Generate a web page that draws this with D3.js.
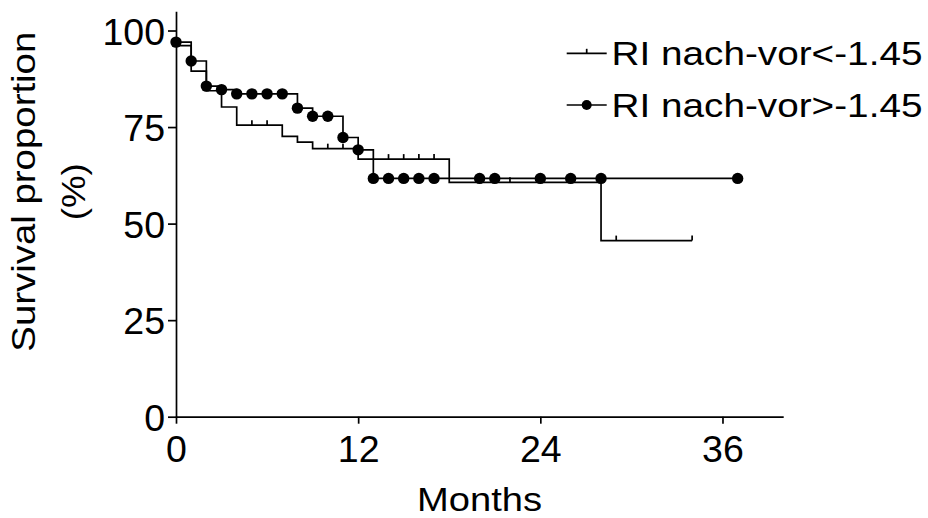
<!DOCTYPE html>
<html>
<head>
<meta charset="utf-8">
<script src="https://cdn.jsdelivr.net/npm/d3@7"></script>
<style>
  html, body { margin: 0; padding: 0; background: #fff; }
  svg { display: block; }
  text { font-family: "Liberation Sans", Arial, sans-serif; fill: #000; }
</style>
</head>
<body>
<svg id="chart" width="928" height="518"></svg>
<script>
// ---- data ----
const seriesNames = ["RI nach-vor<-1.45", "RI nach-vor>-1.45"];

// Series 1: RI nach-vor<-1.45 (censored marks as ticks)
const lowMonths   = [0, 1, 2, 3, 4, 5, 6, 7, 8, 9, 10, 11, 12, 14, 15, 16, 17, 18, 22, 28, 29, 34];
const lowSurvival = [96.1, 89.5, 84.4, 80.2, 75.5, 75.5, 75.5, 72.6, 71.1, 69.4, 69.4, 69.4, 66.7, 66.7, 66.7, 66.7, 66.7, 60.7, 60.7, 45.6, 45.6, 45.6];
const lowCensored = [0, 0, 0, 0, 0, 1, 1, 0, 0, 0, 1, 1, 0, 1, 1, 1, 1, 0, 1, 0, 1, 1];

// Series 2: RI nach-vor>-1.45 (every point drawn as a dot)
const highMonths   = [0, 1, 2, 3, 4, 5, 6, 7, 8, 9, 10, 11, 12, 13, 14, 15, 16, 17, 20, 21, 24, 26, 28, 37];
const highSurvival = [97.0, 92.1, 85.6, 84.7, 83.6, 83.6, 83.6, 83.6, 79.9, 77.8, 77.8, 72.3, 69.1, 61.7, 61.7, 61.7, 61.7, 61.7, 61.7, 61.7, 61.7, 61.7, 61.7, 61.7];

const xTicks = [0, 12, 24, 36];
const yTicks = [0, 25, 50, 75, 100];
const xTitle = "Months";
const yTitleLines = ["Survival proportion", "(%)"];

// ---- layout ----
const svg = d3.select("#chart");
const x = d3.scaleLinear().domain([0, 40]).range([176, 783.2]);
const y = d3.scaleLinear().domain([0, 105]).range([416.7, 11.2]);
const tickFont = 37.5;
const titleFont = 33;
const lw = 1.7;

// y axis
const yAxis = svg.append("g")
  .attr("transform", `translate(${x(0)},0)`)
  .call(d3.axisLeft(y).tickValues(yTicks).tickSize(8).tickSizeOuter(0).tickPadding(3));
yAxis.select(".domain").attr("stroke", "#000").attr("stroke-width", lw);
yAxis.selectAll(".tick line").attr("stroke", "#000").attr("stroke-width", lw);
yAxis.selectAll(".tick text")
  .attr("font-size", tickFont)
  .attr("font-family", "Liberation Sans, Arial, sans-serif")
  .attr("dy", "0.36em");

// x axis
const xAxis = svg.append("g")
  .attr("transform", `translate(0,${y(0)})`)
  .call(d3.axisBottom(x).tickValues(xTicks).tickSize(7).tickSizeOuter(0).tickPadding(11.4));
xAxis.select(".domain").attr("stroke", "#000").attr("stroke-width", lw);
xAxis.selectAll(".tick line").attr("stroke", "#000").attr("stroke-width", lw);
xAxis.selectAll(".tick text")
  .attr("font-size", tickFont)
  .attr("font-family", "Liberation Sans, Arial, sans-serif");

// step curves
const line = d3.line().x(d => x(d[0])).y(d => y(d[1])).curve(d3.curveStepAfter);

const lowPts = lowMonths.map((m, i) => [m, lowSurvival[i], lowCensored[i]]);
const highPts = highMonths.map((m, i) => [m, highSurvival[i]]);

svg.append("path").datum(lowPts)
  .attr("d", line).attr("fill", "none").attr("stroke", "#000").attr("stroke-width", lw);

svg.append("path").datum(highPts)
  .attr("d", line).attr("fill", "none").attr("stroke", "#000").attr("stroke-width", lw);

// censor ticks
const tickLen = 5;
svg.append("g").selectAll("line")
  .data(lowPts.filter(d => d[2] === 1))
  .join("line")
  .attr("x1", d => x(d[0])).attr("x2", d => x(d[0]))
  .attr("y1", d => y(d[1])).attr("y2", d => y(d[1]) - tickLen)
  .attr("stroke", "#000").attr("stroke-width", lw);

// dots
svg.append("g").selectAll("circle")
  .data(highPts)
  .join("circle")
  .attr("cx", d => x(d[0])).attr("cy", d => y(d[1]))
  .attr("r", 5.7).attr("fill", "#000");

// axis titles
svg.append("text")
  .attr("x", (x(0) + x(40)) / 2).attr("y", 511)
  .attr("text-anchor", "middle")
  .attr("font-size", titleFont)
  .attr("textLength", 125).attr("lengthAdjust", "spacingAndGlyphs")
  .text(xTitle);

const yMid = 191.7;
svg.append("text")
  .attr("transform", `translate(35,${yMid}) rotate(-90)`)
  .attr("text-anchor", "middle")
  .attr("font-size", titleFont)
  .attr("textLength", 320).attr("lengthAdjust", "spacingAndGlyphs")
  .text(yTitleLines[0]);
svg.append("text")
  .attr("transform", `translate(85,${yMid}) rotate(-90)`)
  .attr("text-anchor", "middle")
  .attr("font-size", titleFont)
  .attr("textLength", 57).attr("lengthAdjust", "spacingAndGlyphs")
  .text(yTitleLines[1]);

// legend
const legX1 = 566.7, legX2 = 606.7, legTextX = 611.5;
const legRows = [53.3, 105];
const legBase = [65, 116.5];

// row 1: line with censor tick
svg.append("line")
  .attr("x1", legX1).attr("x2", legX2).attr("y1", legRows[0]).attr("y2", legRows[0])
  .attr("stroke", "#000").attr("stroke-width", lw);
svg.append("line")
  .attr("x1", (legX1 + legX2) / 2).attr("x2", (legX1 + legX2) / 2)
  .attr("y1", legRows[0]).attr("y2", legRows[0] - 4.5)
  .attr("stroke", "#000").attr("stroke-width", lw);
// row 2: line with dot
svg.append("line")
  .attr("x1", legX1).attr("x2", legX2).attr("y1", legRows[1]).attr("y2", legRows[1])
  .attr("stroke", "#000").attr("stroke-width", lw);
svg.append("circle")
  .attr("cx", (legX1 + legX2) / 2).attr("cy", legRows[1]).attr("r", 5).attr("fill", "#000");

seriesNames.forEach((name, i) => {
  svg.append("text")
    .attr("x", legTextX).attr("y", legBase[i])
    .attr("font-size", titleFont)
    .attr("textLength", 311).attr("lengthAdjust", "spacingAndGlyphs")
    .text(name);
});
</script>
</body>
</html>
